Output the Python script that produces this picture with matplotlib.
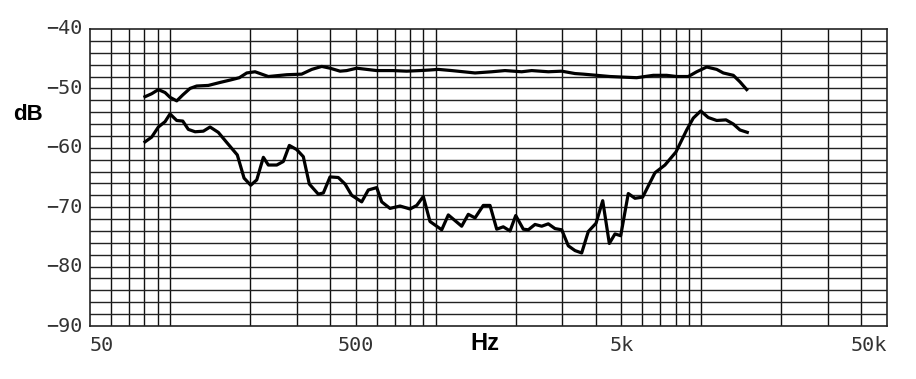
import numpy as np
import matplotlib
matplotlib.use('Agg')
import matplotlib.pyplot as plt

# upper curve (on-axis response)
freq_top = [80.5, 85.3, 90.4, 95.8, 100, 106, 111.7, 119, 126, 139.4, 154.3, 168.3,
            182.4, 194.5, 209, 234.5, 275, 313, 341.7, 372.6, 400.4, 436.6, 462.6,
            504.5, 550, 600, 691, 778, 873, 952, 1023, 1150, 1407, 1626, 1824, 2108,
            2299, 2655, 2983, 3346, 3596, 4040, 4533, 5087, 5712, 6597, 7406, 8080,
            8935, 9610, 10480, 11430, 12100, 13200, 13985, 14825]
db_top = [-51.4, -50.9, -50.2, -50.7, -51.5, -52.1, -51.1, -50.0, -49.6, -49.5, -49.0, -48.6,
          -48.2, -47.4, -47.2, -48.0, -47.7, -47.6, -46.8, -46.3, -46.6, -47.1, -47.0,
          -46.6, -46.8, -47.0, -47.0, -47.1, -47.0, -46.9, -46.8, -47.0, -47.4, -47.2, -47.0, -47.2,
          -47.0, -47.2, -47.1, -47.5, -47.6, -47.8, -48.0, -48.1, -48.2, -47.8, -47.8, -48.0,
          -48.0, -47.2, -46.4, -46.8, -47.4, -47.8, -48.9, -50.2]

# lower curve (off-axis / rear)
freq_bot = [80.5, 85.3, 90.4, 95.8, 100, 106, 111.7, 117.2, 124.3, 133.5, 141.5, 152,
            163.5, 179.2, 190, 201.3, 212.1, 224.6, 234.5, 252.3, 267.1, 281.3, 299.9,
            317.6, 334.5, 361.6, 377.8, 400.4, 430, 456, 483.1, 526.8, 557.8, 600,
            626.6, 673.3, 734.4, 800.8, 848.6, 898.6, 952, 1054, 1116, 1253, 1327, 1407,
            1511, 1602, 1698, 1797, 1905, 2002, 2138, 2233, 2366, 2507, 2655, 2814, 2983,
            3158, 3346, 3546, 3755, 4015, 4255, 4506, 4733, 4973, 5311, 5628, 6016, 6694,
            7298, 8029, 8810, 9330, 9950, 10620, 11430, 12390, 13200, 13985, 14900]
db_bot = [-59.0, -58.2, -56.5, -55.6, -54.3, -55.4, -55.5, -56.9, -57.3, -57.2, -56.5, -57.4,
          -59.1, -61.2, -65.1, -66.3, -65.4, -61.6, -62.9, -62.9, -62.3, -59.6, -60.3,
          -61.5, -66.1, -67.8, -67.6, -64.9, -65.0, -66.1, -68.0, -69.1, -67.1, -66.7,
          -69.1, -70.2, -69.8, -70.3, -69.7, -68.2, -72.4, -73.8, -71.3, -73.2, -71.2, -71.8,
          -69.7, -69.7, -73.7, -73.3, -74.0, -71.4, -73.7, -73.8, -72.9, -73.2, -72.8, -73.6, -73.8,
          -76.5, -77.3, -77.7, -74.1, -72.7, -68.9, -76.1, -74.5, -74.8, -67.7, -68.5, -68.3, -64.2,
          -62.9, -60.7, -57.0, -55.0, -53.8, -54.9, -55.4, -55.3, -56.0, -57.0, -57.4]

x_labels = ['50', '500', '5k', '50k']
x_label_pos = [50, 500, 5000, 50000]
y_ticks = [-40, -50, -60, -70, -80, -90]

fig = plt.figure(figsize=(9.16, 3.79), dpi=100)
ax = fig.add_axes([0.0983, 0.1398, 0.8700, 0.7837])
ax.set_xscale('log')
ax.set_xlim(50, 50000)
ax.set_ylim(-90, -40)

# grid: vertical at 1-2-...-9 per decade, horizontal every 2 dB
vlines = [m * 10 ** d for d in range(1, 5) for m in range(1, 10)]
for v in vlines:
    if 50 < v < 50000:
        ax.axvline(v, color='#111111', lw=1.0, zorder=1)
for h in range(-88, -40, 2):
    ax.axhline(h, color='#222222', lw=1.0, zorder=1)

ax.plot(freq_top, db_top, color='black', lw=2.3, zorder=3)
ax.plot(freq_bot, db_bot, color='black', lw=2.3, zorder=3)

for s in ax.spines.values():
    s.set_color('#222222')
    s.set_linewidth(1.2)

ax.set_xticks([])
ax.set_yticks([])
ax.minorticks_off()

mono = 'DejaVu Sans Mono'
for v in y_ticks:
    ax.text(-0.009, (v + 90) / 50, '\u2212' + str(abs(v)), transform=ax.transAxes,
            ha='right', va='center', fontsize=14.5, family=mono, color='#333333')

aligns = ['left', 'center', 'center', 'right']
for lab, pos, al in zip(x_labels, x_label_pos, aligns):
    ax.text(pos, -93.3, lab, ha=al, va='center', fontsize=14.5, family=mono,
            color='#333333', transform=ax.transData, clip_on=False)

fig.text(28 / 916, 1 - 114 / 379, 'dB', ha='center', va='center', fontsize=16,
         fontweight='bold', family='Liberation Sans')
fig.text(485 / 916, 1 - 344 / 379, 'Hz', ha='center', va='center', fontsize=17,
         fontweight='bold', family='Liberation Sans')

plt.savefig('out.png', dpi=100)
plt.close()
